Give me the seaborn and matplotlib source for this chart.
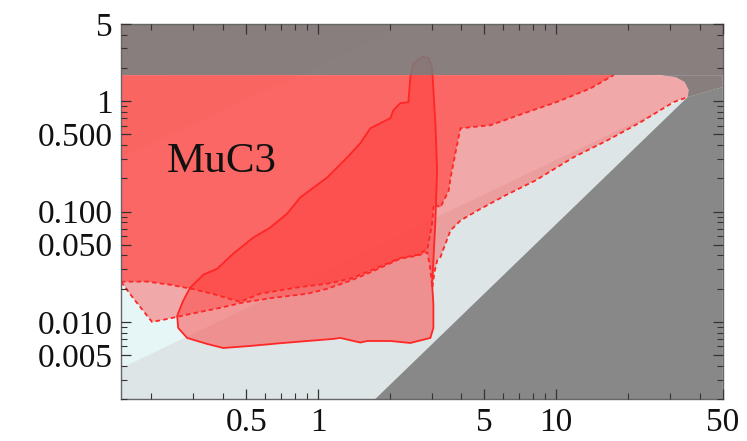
import numpy as np
import pandas as pd
import matplotlib.pyplot as plt
import matplotlib.ticker as mticker
import seaborn as sns

# axis ranges and ticks
x_lim = [0.149, 50]
y_lim = [0.002, 5]
x_ticks = [0.5, 1, 5, 10, 50]
x_tick_labels = ['0.5', '1', '5', '10', '50']
y_ticks = [0.005, 0.01, 0.05, 0.1, 0.5, 1, 5]
y_tick_labels = ['0.005', '0.010', '0.050', '0.100', '0.500', '1', '5']

# upper excluded band
band_top = 1.72

# light cyan band between two diagonals
cyan_x = [0.149, 35.6, 50, 50, 2.42, 0.149]
cyan_y = [0.0038, 1.087, 1.5, 5, 5, 0.31]

# dark grey (forbidden) region
dark_x = [1.74, 35.6, 50, 50]
dark_y = [0.002, 1.087, 1.34, 0.002]

# rounded tip of the light region (dashed contour B)
tip_x = [35.97, 34.6, 31.7, 27.3]
tip_y = [1.259, 1.489, 1.65, 1.72]

# lower dashed contour (region B)
b_x = [0.149, 0.1675, 0.201, 0.224, 0.2557, 0.311, 0.3886, 0.4854, 0.649, 0.9016,
       1.094, 1.367, 1.659, 2.217, 2.614, 2.879, 2.95, 3.022, 3.08, 3.172, 3.265,
       3.597, 3.963, 4.67, 6.12, 8.18, 11.82, 16.43, 22.6, 31.1, 35.6]
b_y = [0.0231, 0.01645, 0.0100, 0.01043, 0.0111, 0.01215, 0.0134, 0.01498, 0.01652, 0.01798,
       0.01995, 0.0236, 0.0281, 0.0374, 0.0398, 0.0427, 0.032, 0.0204, 0.028, 0.0365, 0.0385,
       0.0672, 0.0828, 0.102, 0.14, 0.191, 0.31, 0.442, 0.644, 0.98, 1.087]

# upper dashed contour (region A)
a_x = [0.149, 0.191, 0.2394, 0.2993, 0.363, 0.428, 0.4716, 0.5724, 0.8186, 1.094,
       1.367, 1.659, 2.217, 2.614, 2.879, 3.013, 3.06, 3.265, 3.54, 3.597, 3.774,
       3.963, 4.507, 5.296, 7.29, 10.10, 13.93, 17.46]
a_y = [0.0231, 0.0232, 0.0217, 0.0198, 0.0179, 0.0161, 0.0152, 0.018, 0.0205, 0.0222,
       0.0246, 0.0291, 0.038, 0.0405, 0.0455, 0.0778, 0.117, 0.109, 0.155, 0.1995, 0.337,
       0.568, 0.584, 0.605, 0.773, 0.985, 1.305, 1.723]

# solid contour (region C)
c_x = [0.2906, 0.330, 0.3775, 0.4407, 0.535, 0.630, 0.743, 0.8424, 1.094, 1.328,
       1.505, 1.659, 1.827, 2.013, 2.072, 2.217, 2.395, 2.442, 2.514, 2.743,
       2.907, 3.013, 3.051, 3.111, 3.162, 3.111, 3.051, 3.013, 3.051, 3.051,
       2.963, 2.442, 2.013, 1.611, 1.505, 1.241, 1.16, 0.7149, 0.5194, 0.400,
       0.3426, 0.2823, 0.2588, 0.2564, 0.2716, 0.2906]
c_y = [0.02037, 0.02675, 0.0303, 0.0415, 0.058, 0.0715, 0.0959, 0.134, 0.2038, 0.3097,
       0.415, 0.568, 0.631, 0.7005, 0.828, 0.959, 0.979, 1.652, 2.215, 2.512,
       2.46, 2.038, 1.259, 0.631, 0.236, 0.0828, 0.0358, 0.02216, 0.01458, 0.00882,
       0.00715, 0.00644, 0.00671, 0.00671, 0.0065, 0.00715, 0.00701, 0.00644, 0.00605, 0.0058,
       0.00631, 0.00715, 0.00882, 0.01134, 0.01552, 0.02037]

label_text = 'MuC3'
label_pos = (0.232, 0.226)

sns.set_theme(style='ticks')
plt.rcParams['font.family'] = ['Liberation Serif', 'DejaVu Serif']
plt.rcParams['xtick.direction'] = 'in'
plt.rcParams['ytick.direction'] = 'in'

fig = plt.figure(figsize=(7.47, 4.41), dpi=100)
ax = fig.add_axes([0.162, 0.0952, 0.8055, 0.8504])
ax.set_xscale('log')
ax.set_yscale('log')
ax.set_facecolor('#dde5e6')

line_red = '#ff2626'

# background bands
ax.fill(cyan_x, cyan_y, color='#e6f6f6', lw=0, zorder=1)
ax.fill(dark_x, dark_y, color='#888888', lw=0, zorder=2)
wedge_x = [b_x[-1], dark_x[2], dark_x[2]] + tip_x[::-1]
wedge_y = [b_y[-1], dark_y[2], band_top] + tip_y[::-1]
ax.fill(wedge_x, wedge_y, color='#897e7e', lw=0, zorder=2)

# region B (light pink)
bx = b_x + tip_x + [x_lim[0]]
by = b_y + tip_y + [band_top]
ax.fill(bx, by, color=(1.0, 0.235, 0.235), alpha=0.42, lw=0, zorder=3)

# region A (medium red)
ax_poly_x = a_x + [x_lim[0]]
ax_poly_y = a_y + [band_top]
ax.fill(ax_poly_x, ax_poly_y, color=(1.0, 0.31, 0.29), alpha=0.72, lw=0, zorder=4)

# region C (solid contour)
ax.fill(c_x, c_y, color=(1.0, 0.235, 0.235), alpha=0.5, lw=0, zorder=5)

# contour lines
df_b = pd.DataFrame({'x': b_x, 'y': b_y})
df_a = pd.DataFrame({'x': a_x, 'y': a_y})
df_c = pd.DataFrame({'x': c_x, 'y': c_y})
sns.lineplot(data=df_b, x='x', y='y', sort=False, estimator=None, color=line_red,
             lw=1.3, linestyle=(0, (2.5, 1.8)), ax=ax, zorder=6)
sns.lineplot(data=df_a, x='x', y='y', sort=False, estimator=None, color=line_red,
             lw=1.3, linestyle=(0, (2.5, 1.8)), ax=ax, zorder=6)
sns.lineplot(data=df_c, x='x', y='y', sort=False, estimator=None, color=line_red,
             lw=1.3, ax=ax, zorder=6)

# top excluded band
ax.axhspan(band_top, y_lim[1], color='#817575', alpha=0.92, lw=0, zorder=7)

ax.text(label_pos[0], label_pos[1], label_text, fontsize=31, ha='left', va='baseline',
        color='#111111', zorder=8)

ax.set_xlim(x_lim)
ax.set_ylim(y_lim)
ax.set_xlabel('')
ax.set_ylabel('')
ax.xaxis.set_major_locator(mticker.FixedLocator(x_ticks))
ax.xaxis.set_major_formatter(mticker.FixedFormatter(x_tick_labels))
ax.yaxis.set_major_locator(mticker.FixedLocator(y_ticks))
ax.yaxis.set_major_formatter(mticker.FixedFormatter(y_tick_labels))
ax.xaxis.set_minor_locator(mticker.LogLocator(base=10, subs=np.arange(2, 10), numticks=20))
ax.yaxis.set_minor_locator(mticker.LogLocator(base=10, subs=np.arange(2, 10), numticks=20))
ax.xaxis.set_minor_formatter(mticker.NullFormatter())
ax.yaxis.set_minor_formatter(mticker.NullFormatter())
ax.tick_params(which='both', direction='in', top=True, right=True, bottom=True, left=True,
               color='#333333', labelcolor='#111111', width=0.9)
ax.tick_params(which='major', length=7, labelsize=24, pad=6)
ax.tick_params(which='minor', length=4, width=0.8)
for s in ax.spines.values():
    s.set_color('#666666')
    s.set_linewidth(1.0)
    s.set_zorder(10)
ax.xaxis.set_zorder(11)
ax.yaxis.set_zorder(11)

fig.savefig('out.png', dpi=100)
